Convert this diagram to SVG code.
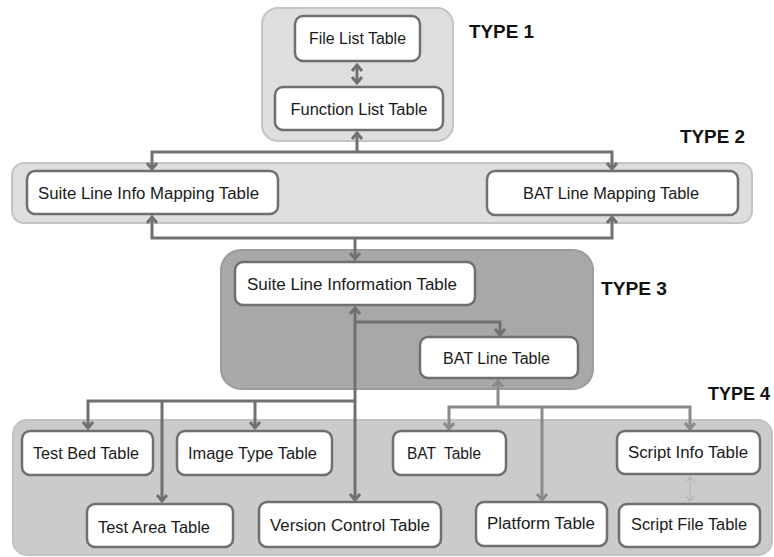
<svg xmlns="http://www.w3.org/2000/svg" width="774" height="557" viewBox="0 0 774 557">
  <style>
    .grp1 { fill: #dedede; stroke: #c4c4c4; stroke-width: 2; }
    .grp3 { fill: #a8a8a8; stroke: #9c9c9c; stroke-width: 2; }
    .grp4 { fill: #cbcbcb; stroke: #c2c2c2; stroke-width: 2; }
    .box { fill: #ffffff; stroke: #6f6f6f; stroke-width: 2.5; }
    .lbl { font-family: "Liberation Sans", Arial, sans-serif; font-size: 16px; fill: #1a1a1a; text-anchor: middle; }
    .type { font-family: "Liberation Sans", Arial, sans-serif; font-size: 18px; font-weight: bold; fill: #111111; }
    .con { fill: none; stroke: #707070; stroke-width: 3; }
    .con2 { fill: none; stroke: #8a8a8a; stroke-width: 3; }
    .thin { fill: none; stroke: #b4b4b4; stroke-width: 1.2; }
  </style>
  <defs>
    <marker id="arr" markerUnits="userSpaceOnUse" markerWidth="14" markerHeight="14" refX="7" refY="7" orient="auto-start-reverse" viewBox="0 0 14 14">
      <path d="M1,2 L7,7 L1,12" fill="none" stroke="#707070" stroke-width="3" stroke-linejoin="miter"/>
    </marker>
    <marker id="arr2" markerUnits="userSpaceOnUse" markerWidth="14" markerHeight="14" refX="7" refY="7" orient="auto-start-reverse" viewBox="0 0 14 14">
      <path d="M1,2 L7,7 L1,12" fill="none" stroke="#8a8a8a" stroke-width="3"/>
    </marker>
    <marker id="arrThin" markerUnits="userSpaceOnUse" markerWidth="12" markerHeight="12" refX="6" refY="6" orient="auto-start-reverse" viewBox="0 0 12 12">
      <path d="M0,1 L6,6 L0,11" fill="none" stroke="#b4b4b4" stroke-width="1.2"/>
    </marker>
  </defs>

  <!-- group containers -->
  <g id="type1">
    <rect class="grp1" x="262" y="8" width="191" height="133" rx="16"/>
    <text class="type" x="469" y="38" textLength="65" lengthAdjust="spacingAndGlyphs">TYPE 1</text>
  </g>
  <g id="type2">
    <rect class="grp1" x="12" y="163" width="740" height="60" rx="12"/>
    <text class="type" x="680" y="143" textLength="65" lengthAdjust="spacingAndGlyphs">TYPE 2</text>
  </g>
  <g id="type3">
    <rect class="grp3" x="221" y="250" width="372" height="139" rx="20"/>
    <text class="type" x="601" y="295" textLength="66" lengthAdjust="spacingAndGlyphs">TYPE 3</text>
  </g>
  <g id="type4">
    <rect class="grp4" x="13" y="420" width="759" height="135" rx="14"/>
    <text class="type" x="708" y="400" textLength="62" lengthAdjust="spacingAndGlyphs">TYPE 4</text>
  </g>

  <!-- connectors -->
  <g id="connectors">
    <path class="con" d="M357,65 V83" marker-start="url(#arr)" marker-end="url(#arr)"/>
    <path class="con" d="M357,151 V133" marker-end="url(#arr)"/>
    <path class="con" d="M152,169 V152 H612 V169" marker-start="url(#arr)" marker-end="url(#arr)"/>
    <path class="con" d="M152,217 V238 H612 V217" marker-start="url(#arr)" marker-end="url(#arr)"/>
    <path class="con" d="M355,238 V259" marker-end="url(#arr)"/>
    <path class="con" d="M355,500 V308" marker-start="url(#arr)" marker-end="url(#arr)"/>
    <path class="con" d="M355,322 H500 V335" marker-end="url(#arr)"/>
    <path class="con" d="M88,428 V401 H355" marker-start="url(#arr)"/>
    <path class="con" d="M255,401 V428" marker-end="url(#arr)"/>
    <path class="con" d="M162,401 V501" marker-end="url(#arr)"/>
    <path class="con2" d="M498,407 V381" marker-end="url(#arr2)"/>
    <path class="con2" d="M449,429 V407 H690 V429" marker-start="url(#arr2)" marker-end="url(#arr2)"/>
    <path class="con2" d="M542,407 V500" marker-end="url(#arr2)"/>
    <path class="thin" d="M690,477 V501" marker-start="url(#arrThin)" marker-end="url(#arrThin)"/>
  </g>

  <!-- table nodes -->
  <g id="file-list">
    <rect class="box" x="295" y="16" width="125" height="45" rx="8"/>
    <text class="lbl" x="357.5" y="44" textLength="97" lengthAdjust="spacingAndGlyphs">File List Table</text>
  </g>
  <g id="function-list">
    <rect class="box" x="275" y="87" width="168" height="43" rx="8"/>
    <text class="lbl" x="359" y="115" textLength="137" lengthAdjust="spacingAndGlyphs">Function List Table</text>
  </g>
  <g id="suite-line-info-mapping">
    <rect class="box" x="27" y="171" width="251" height="43" rx="8"/>
    <text class="lbl" x="148.5" y="199" textLength="221" lengthAdjust="spacingAndGlyphs">Suite Line Info Mapping Table</text>
  </g>
  <g id="bat-line-mapping">
    <rect class="box" x="487" y="171" width="251" height="44" rx="8"/>
    <text class="lbl" x="611" y="199" textLength="176" lengthAdjust="spacingAndGlyphs">BAT Line Mapping Table</text>
  </g>
  <g id="suite-line-information">
    <rect class="box" x="235" y="262" width="240" height="43" rx="8"/>
    <text class="lbl" x="352" y="290" textLength="210" lengthAdjust="spacingAndGlyphs">Suite Line Information Table</text>
  </g>
  <g id="bat-line">
    <rect class="box" x="420" y="337" width="158" height="41" rx="8"/>
    <text class="lbl" x="496.5" y="364" textLength="107" lengthAdjust="spacingAndGlyphs">BAT Line Table</text>
  </g>
  <g id="test-bed">
    <rect class="box" x="22" y="431" width="131" height="44" rx="8"/>
    <text class="lbl" x="86" y="459" textLength="106" lengthAdjust="spacingAndGlyphs">Test Bed Table</text>
  </g>
  <g id="image-type">
    <rect class="box" x="177" y="431" width="155" height="44" rx="8"/>
    <text class="lbl" x="252.5" y="459" textLength="129" lengthAdjust="spacingAndGlyphs">Image Type Table</text>
  </g>
  <g id="test-area">
    <rect class="box" x="87" y="504" width="146" height="43" rx="8"/>
    <text class="lbl" x="154" y="533" textLength="112" lengthAdjust="spacingAndGlyphs">Test Area Table</text>
  </g>
  <g id="version-control">
    <rect class="box" x="259" y="502" width="182" height="45" rx="8"/>
    <text class="lbl" x="350" y="531" textLength="160" lengthAdjust="spacingAndGlyphs">Version Control Table</text>
  </g>
  <g id="bat">
    <rect class="box" x="393" y="431" width="113" height="44" rx="8"/>
    <text class="lbl" x="444" y="459" textLength="74" lengthAdjust="spacingAndGlyphs" xml:space="preserve">BAT  Table</text>
  </g>
  <g id="platform">
    <rect class="box" x="476" y="502" width="131" height="44" rx="8"/>
    <text class="lbl" x="541" y="529" textLength="108" lengthAdjust="spacingAndGlyphs">Platform Table</text>
  </g>
  <g id="script-info">
    <rect class="box" x="617" y="431" width="143" height="43" rx="8"/>
    <text class="lbl" x="688" y="458" textLength="120" lengthAdjust="spacingAndGlyphs">Script Info Table</text>
  </g>
  <g id="script-file">
    <rect class="box" x="619" y="504" width="141" height="43" rx="8"/>
    <text class="lbl" x="689" y="530" textLength="116" lengthAdjust="spacingAndGlyphs">Script File Table</text>
  </g>
</svg>
